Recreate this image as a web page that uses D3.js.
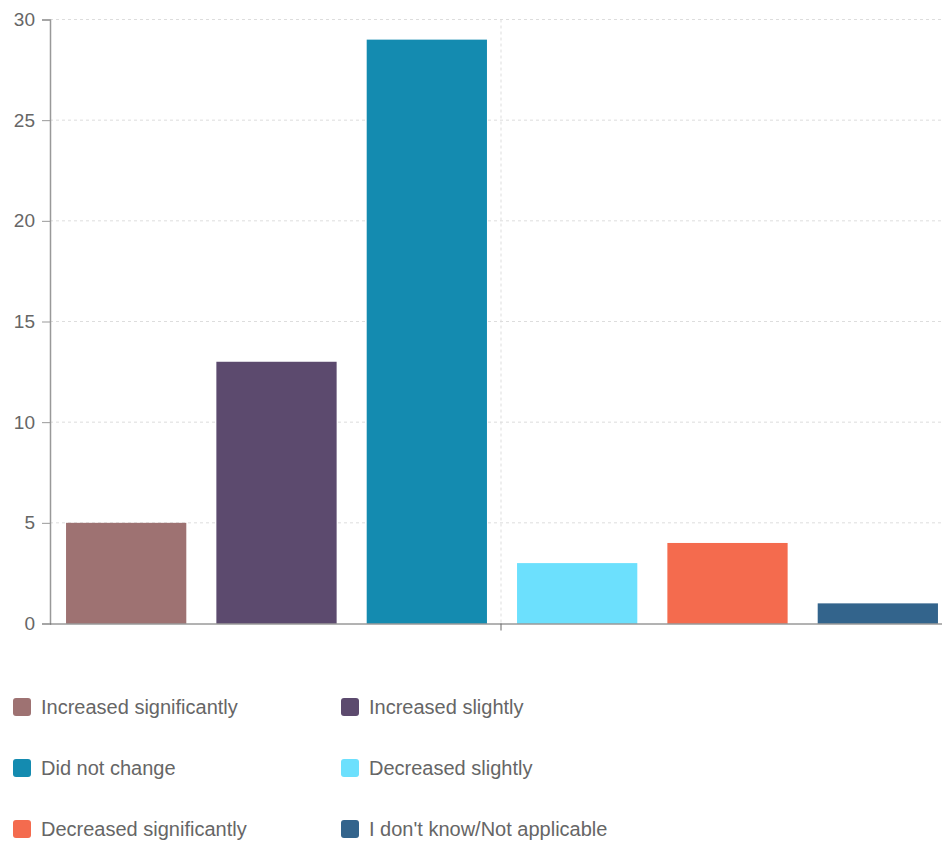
<!DOCTYPE html>
<html><head><meta charset="utf-8">
<script src="https://cdn.jsdelivr.net/npm/d3@7"></script>
<style>body{margin:0;background:#fff;}svg{display:block;font-family:"Liberation Sans",Arial,sans-serif;}</style>
</head><body><svg id="c" width="942" height="841"></svg>
<script>
const categories = ["Increased significantly","Increased slightly","Did not change","Decreased slightly","Decreased significantly","I don't know/Not applicable"];
const values = [5, 13, 29, 3, 4, 1];
const colors = ["#9e7272","#5c4a6e","#148bb0","#6ce0fd","#f46b4e","#33648c"];
const yTicks = [0,5,10,15,20,25,30];

const svg = d3.select("#c");
const mLeft = 50, mTop = 19.5, mBottom = 623.5, mRight = 952;
const y = d3.scaleLinear().domain([0,30]).range([mBottom, mTop]);
const x0 = d3.scaleBand().domain(["g"]).range([mLeft, mRight]).padding(0);
const x1 = d3.scaleBand().domain(categories).range([x0("g")+1, x0("g")+x0.bandwidth()+1]).paddingInner(0.2).paddingOuter(0.1);

// horizontal grid
svg.append("g").selectAll("line").data(yTicks.filter(d=>d>0)).join("line")
  .attr("x1", mLeft).attr("x2", 942).attr("y1", d=>y(d)).attr("y2", d=>y(d))
  .attr("stroke", "#ddd").attr("stroke-dasharray","3,3");
// vertical grid at category center
svg.append("line").attr("x1", x0("g")+x0.bandwidth()/2).attr("x2", x0("g")+x0.bandwidth()/2)
  .attr("y1", mTop).attr("y2", mBottom).attr("stroke","#ddd").attr("stroke-dasharray","3,3");

// bars
svg.append("g").selectAll("rect").data(categories).join("rect")
  .attr("x", d=>x1(d)).attr("width", x1.bandwidth())
  .attr("y", (d,i)=>y(values[i])).attr("height", (d,i)=>mBottom - y(values[i]))
  .attr("fill", (d,i)=>colors[i]);

// y axis
const ya = svg.append("g").attr("transform", `translate(${mLeft},0)`)
  .call(d3.axisLeft(y).tickValues(yTicks).tickSize(8).tickPadding(7));
ya.select(".domain").attr("stroke","#999").attr("stroke-width",1.5);
ya.selectAll(".tick line").attr("stroke","#999");
ya.selectAll("text").attr("fill","#666").style("font-size","19px");

// x axis
const xa = svg.append("g").attr("transform", `translate(0,${mBottom})`)
  .call(d3.axisBottom(x0).tickSize(7).tickFormat(""));
xa.select(".domain").attr("stroke","#666").attr("d", `M${mLeft},0.5H942`);
xa.selectAll(".tick line").attr("stroke","#666");

// legend
const lg = svg.append("g");
categories.forEach((c,i)=>{
  const col = i%2, row = Math.floor(i/2);
  const gx = 13 + col*328, gy = 707 + row*61;
  lg.append("rect").attr("x", gx).attr("y", gy-9).attr("width",18).attr("height",18)
    .attr("rx",3).attr("fill", colors[i]);
  lg.append("text").attr("x", gx+28).attr("y", gy).attr("dy","0.35em")
    .attr("fill","#666").style("font-size","20px").text(c);
});
</script></body></html>
